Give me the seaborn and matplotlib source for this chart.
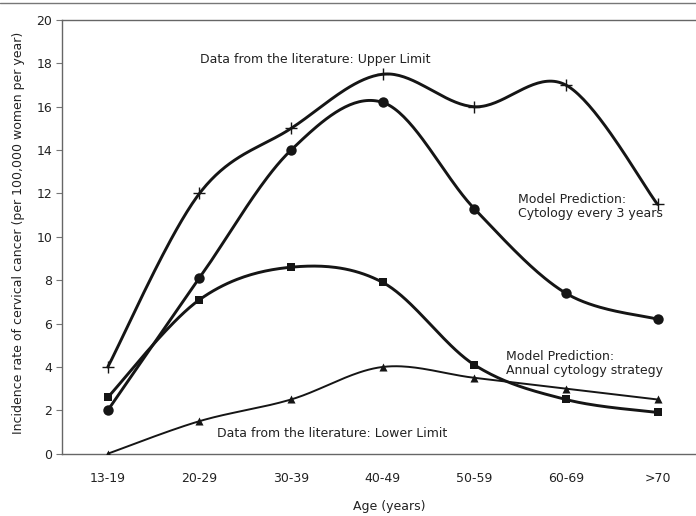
import numpy as np
import pandas as pd
import matplotlib
matplotlib.use("Agg")
import matplotlib.pyplot as plt
from matplotlib.lines import Line2D
import seaborn as sns

# Data
ages = ['13-19', '20-29', '30-39', '40-49', '50-59', '60-69', '>70']
upper_limit = [4, 12, 15, 17.5, 16, 17, 11.5]
every_3_years = [2, 8.1, 14, 16.2, 11.3, 7.4, 6.2]
annual = [2.6, 7.1, 8.6, 7.9, 4.1, 2.5, 1.9]
lower_limit = [0, 1.5, 2.5, 4, 3.5, 3, 2.5]


def smooth(y, n=40):
    # Catmull-Rom style smoothing (like a spreadsheet "smoothed line")
    x = np.arange(len(y), dtype=float)
    y = np.asarray(y, dtype=float)
    px = np.concatenate([[x[0]], x, [x[-1]]])
    py = np.concatenate([[y[0]], y, [y[-1]]])
    xs, ys = [], []
    t = np.linspace(0, 1, n)
    for i in range(1, len(px) - 2):
        p0 = np.array([px[i], py[i]])
        p3 = np.array([px[i + 1], py[i + 1]])
        p1 = p0 + (np.array([px[i + 1], py[i + 1]]) - np.array([px[i - 1], py[i - 1]])) / 6
        p2 = p3 - (np.array([px[i + 2], py[i + 2]]) - np.array([px[i], py[i]])) / 6
        b = ((1 - t) ** 3)[:, None] * p0 + (3 * (1 - t) ** 2 * t)[:, None] * p1 \
            + (3 * (1 - t) * t ** 2)[:, None] * p2 + (t ** 3)[:, None] * p3
        xs.append(b[:, 0])
        ys.append(b[:, 1])
    return np.concatenate(xs), np.concatenate(ys)


sns.set_theme(style="white")
plt.rcParams['font.family'] = ['DejaVu Sans']

fig = plt.figure(figsize=(6.96, 5.16), dpi=100)
ax = fig.add_axes([62 / 696, 1 - 453.7 / 516, 1 - 62 / 696, (453.7 - 20) / 516])

ink = '#151515'
series = [
    (upper_limit, '+', 8, 2.1, 1.0),
    (every_3_years, 'o', 7.5, 2.1, 0),
    (annual, 's', 5.5, 2.1, 0),
    (lower_limit, '^', 5.8, 1.4, 0),
]
pos = np.arange(len(ages))
for vals, mk, ms, lw, mew in series:
    sx, sy = smooth(vals)
    sns.lineplot(x=sx, y=sy, ax=ax, color=ink, linewidth=lw, sort=False,
                 estimator=None)
    d = pd.DataFrame({'x': pos, 'y': vals})
    if mk == '+':
        ax.plot(d['x'], d['y'], linestyle='none', marker='+', markersize=ms,
                markeredgewidth=1.0, color=ink, zorder=4)
    else:
        sns.scatterplot(data=d, x='x', y='y', ax=ax, marker=mk, s=ms ** 2,
                        color=ink, edgecolor=ink, linewidth=0, zorder=4)

txt = '#222222'
ax.text(1.01, 18.16, 'Data from the literature: Upper Limit', fontsize=9,
        color=txt, va='center')
ax.text(4.48, 11.4, 'Model Prediction:\nCytology every 3 years', fontsize=9,
        color=txt, va='center', linespacing=1.15)
ax.text(4.35, 4.15, 'Model Prediction:\nAnnual cytology strategy', fontsize=9,
        color=txt, va='center', linespacing=1.15)
ax.text(1.19, 0.94, 'Data from the literature: Lower Limit', fontsize=9,
        color=txt, va='center')

ax.set_xlim(-0.5, 6.42)
ax.set_ylim(0, 20)
ax.set_xticks(pos)
ax.set_xticklabels(ages)
ax.set_yticks(range(0, 21, 2))
ax.tick_params(axis='x', length=0, pad=13, labelsize=9, labelcolor=txt)
ax.tick_params(axis='y', length=4, width=0.8, color='#777777', left=True,
               pad=3, labelsize=9, labelcolor=txt)
ax.set_xlabel('Age (years)', fontsize=9, color=txt)
ax.xaxis.set_label_coords((389 - 62) / (696 - 62), -0.107)
ax.set_ylabel('Incidence rate of cervical cancer (per 100,000 women per year)',
              fontsize=9, color=txt)
ax.yaxis.set_label_coords(-0.058, 0.51)

for side in ['left', 'top', 'bottom']:
    ax.spines[side].set_color('#666666')
    ax.spines[side].set_linewidth(1.0)
ax.spines['right'].set_visible(False)

fig.add_artist(Line2D([0, 1], [1 - 3 / 516, 1 - 3 / 516], color='#777777',
                      linewidth=1.0, transform=fig.transFigure))

fig.savefig('out.png', dpi=100)
